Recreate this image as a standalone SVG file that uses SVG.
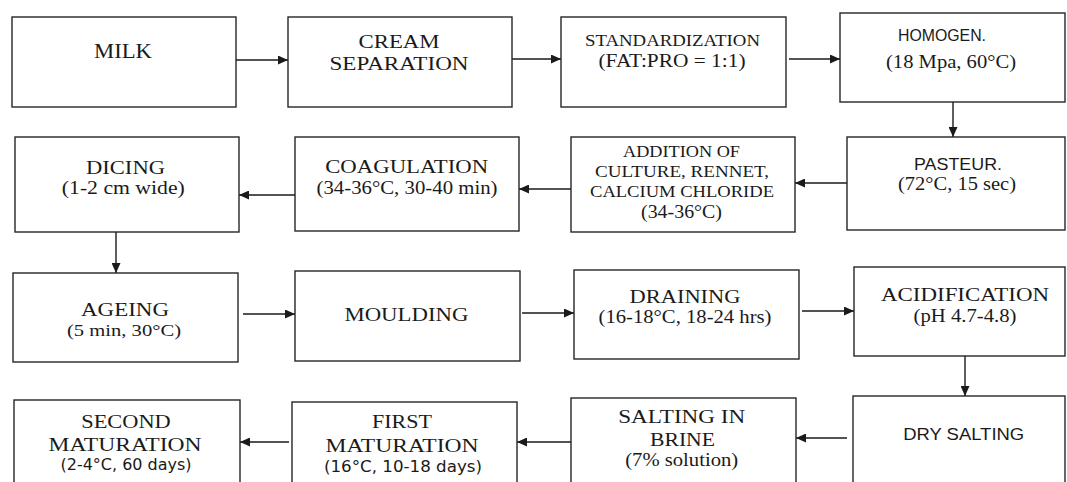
<svg xmlns="http://www.w3.org/2000/svg" width="1067" height="482" viewBox="0 0 1067 482">
<defs>
<marker id="ah" markerUnits="userSpaceOnUse" markerWidth="11" markerHeight="9" refX="10" refY="4.5" orient="auto">
<path d="M0,0 L10,4.5 L0,9 z" fill="#1a1a1a"/>
</marker>
<style>
.box{fill:#fff;stroke:#262626;stroke-width:1.4}
.s{font-family:"Liberation Serif","Times New Roman",serif;fill:#1a1a1a;text-anchor:middle}
.a{font-family:"Liberation Sans",Arial,sans-serif;fill:#1a1a1a;text-anchor:middle}
.d{font-family:"DejaVu Sans",Verdana,sans-serif;fill:#1a1a1a;text-anchor:middle}
.c{fill:none;stroke:#1a1a1a;stroke-width:1.4;marker-end:url(#ah)}
</style>
</defs>
<rect width="1067" height="482" fill="#fff"/>
<g id="connectors">
<path class="c" d="M236,60 H288"/>
<path class="c" d="M512,59 H561"/>
<path class="c" d="M789,59 H840"/>
<path class="c" d="M953,102 V137"/>
<path class="c" d="M847,183 H795"/>
<path class="c" d="M571,189 H519"/>
<path class="c" d="M295,195 H239"/>
<path class="c" d="M116,232 V273"/>
<path class="c" d="M243,314 H295"/>
<path class="c" d="M522,313 H574"/>
<path class="c" d="M802,311 H854"/>
<path class="c" d="M965,356 V396"/>
<path class="c" d="M847,438 H796"/>
<path class="c" d="M571,442 H517"/>
<path class="c" d="M289,442 H240"/>
</g>
<g id="milk"><rect class="box" x="12" y="17" width="224" height="90"/>
<text class="s" x="123" y="58" font-size="20" textLength="58" lengthAdjust="spacingAndGlyphs">MILK</text></g>
<g id="cream"><rect class="box" x="288" y="17" width="224" height="90"/>
<text class="s" x="399" y="48" font-size="19" textLength="81" lengthAdjust="spacingAndGlyphs">CREAM</text>
<text class="s" x="399" y="70" font-size="19" textLength="139" lengthAdjust="spacingAndGlyphs">SEPARATION</text></g>
<g id="standard"><rect class="box" x="561" y="17" width="225" height="90"/>
<text class="s" x="672.5" y="46" font-size="17" textLength="175" lengthAdjust="spacingAndGlyphs">STANDARDIZATION</text>
<text class="s" x="672" y="67" font-size="18" textLength="147" lengthAdjust="spacingAndGlyphs">(FAT:PRO = 1:1)</text></g>
<g id="homogen"><rect class="box" x="840" y="13" width="225" height="89"/>
<text class="a" x="942" y="41" font-size="16" textLength="88" lengthAdjust="spacingAndGlyphs">HOMOGEN.</text>
<text class="s" x="951" y="68" font-size="18" textLength="130" lengthAdjust="spacingAndGlyphs">(18 Mpa, 60°C)</text></g>
<g id="pasteur"><rect class="box" x="847" y="137" width="218" height="93"/>
<text class="a" x="958" y="169.5" font-size="17" textLength="88" lengthAdjust="spacingAndGlyphs">PASTEUR.</text>
<text class="s" x="957" y="190" font-size="18" textLength="118" lengthAdjust="spacingAndGlyphs">(72°C, 15 sec)</text></g>
<g id="addition"><rect class="box" x="571" y="137" width="224" height="95"/>
<text class="s" x="681.5" y="157" font-size="17" textLength="117" lengthAdjust="spacingAndGlyphs">ADDITION OF</text>
<text class="s" x="682" y="177" font-size="17" textLength="174" lengthAdjust="spacingAndGlyphs">CULTURE, RENNET,</text>
<text class="s" x="682" y="197" font-size="17" textLength="184" lengthAdjust="spacingAndGlyphs">CALCIUM CHLORIDE</text>
<text class="s" x="681.5" y="218" font-size="19" textLength="81" lengthAdjust="spacingAndGlyphs">(34-36°C)</text></g>
<g id="coagulation"><rect class="box" x="295" y="137" width="224" height="94"/>
<text class="s" x="406.7" y="173" font-size="18" textLength="163" lengthAdjust="spacingAndGlyphs">COAGULATION</text>
<text class="s" x="407" y="194" font-size="18" textLength="181" lengthAdjust="spacingAndGlyphs">(34-36°C, 30-40 min)</text></g>
<g id="dicing"><rect class="box" x="15" y="137" width="224" height="95"/>
<text class="s" x="125.5" y="174" font-size="19" textLength="79" lengthAdjust="spacingAndGlyphs">DICING</text>
<text class="s" x="123.3" y="194" font-size="18" textLength="123" lengthAdjust="spacingAndGlyphs">(1-2 cm wide)</text></g>
<g id="ageing"><rect class="box" x="13" y="273" width="225" height="89"/>
<text class="s" x="125" y="316" font-size="19" textLength="88" lengthAdjust="spacingAndGlyphs">AGEING</text>
<text class="s" x="124" y="336" font-size="17" textLength="114" lengthAdjust="spacingAndGlyphs">(5 min, 30°C)</text></g>
<g id="moulding"><rect class="box" x="295" y="271" width="225" height="90"/>
<text class="s" x="406.4" y="321" font-size="19" textLength="124" lengthAdjust="spacingAndGlyphs">MOULDING</text></g>
<g id="draining"><rect class="box" x="574" y="270" width="225" height="89"/>
<text class="s" x="685" y="303" font-size="19" textLength="111" lengthAdjust="spacingAndGlyphs">DRAINING</text>
<text class="s" x="685" y="323" font-size="18" textLength="173" lengthAdjust="spacingAndGlyphs">(16-18°C, 18-24 hrs)</text></g>
<g id="acidification"><rect class="box" x="854" y="267" width="211" height="89"/>
<text class="s" x="965" y="301" font-size="19" textLength="168" lengthAdjust="spacingAndGlyphs">ACIDIFICATION</text>
<text class="s" x="965" y="322" font-size="18" textLength="103" lengthAdjust="spacingAndGlyphs">(pH 4.7-4.8)</text></g>
<g id="dry-salting"><rect class="box" x="853" y="396" width="212" height="100"/>
<text class="a" x="963.7" y="439.5" font-size="16.5" textLength="121" lengthAdjust="spacingAndGlyphs">DRY SALTING</text></g>
<g id="brine"><rect class="box" x="571" y="398" width="225" height="100"/>
<text class="s" x="681.7" y="423" font-size="19" textLength="127" lengthAdjust="spacingAndGlyphs">SALTING IN</text>
<text class="s" x="682.5" y="446" font-size="19" textLength="65" lengthAdjust="spacingAndGlyphs">BRINE</text>
<text class="s" x="681.7" y="466" font-size="18" textLength="113" lengthAdjust="spacingAndGlyphs">(7% solution)</text></g>
<g id="first-maturation"><rect class="box" x="292" y="402" width="225" height="100"/>
<text class="s" x="402" y="428" font-size="19" textLength="60" lengthAdjust="spacingAndGlyphs">FIRST</text>
<text class="s" x="402" y="452" font-size="19" textLength="153" lengthAdjust="spacingAndGlyphs">MATURATION</text>
<text class="d" x="403" y="472" font-size="15" textLength="158" lengthAdjust="spacingAndGlyphs">(16°C, 10-18 days)</text></g>
<g id="second-maturation"><rect class="box" x="14" y="400" width="226" height="100"/>
<text class="s" x="126" y="428" font-size="19" textLength="89.5" lengthAdjust="spacingAndGlyphs">SECOND</text>
<text class="s" x="125" y="451" font-size="19" textLength="153" lengthAdjust="spacingAndGlyphs">MATURATION</text>
<text class="d" x="126" y="470" font-size="15" textLength="131" lengthAdjust="spacingAndGlyphs">(2-4°C, 60 days)</text></g>
</svg>
